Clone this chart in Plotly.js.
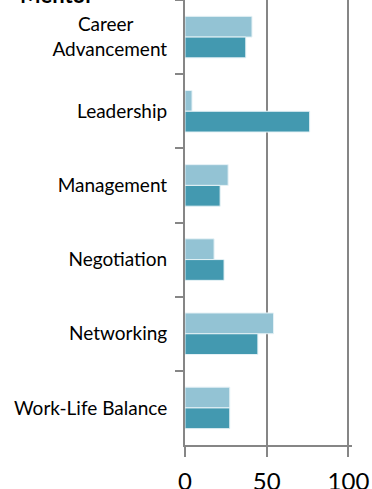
<!DOCTYPE html>
<html>
<head>
<meta charset="utf-8">
<script src="https://cdn.plot.ly/plotly-3.0.1.min.js"></script>
<style>
  html, body { margin: 0; padding: 0; background: #fff; }
  #chart { width: 372px; height: 489px; }
</style>
</head>
<body>
<div id="chart"></div>
<script>
// mentor topics, two series per topic

var topics = ['Career\u00a0\u00a0\u00a0\u00a0\u00a0\u00a0\u00a0<br>Advancement', 'Leadership', 'Management', 'Negotiation', 'Networking', 'Work-Life Balance'];
var lightValues = [41, 4.3, 26.4, 17.8, 54.2, 27.4];
var darkValues = [37.2, 76.3, 21.5, 23.9, 44.6, 27.4];
var xTicks = [0, 50, 100];

var gridColor = '#868686';

var data = [
  {
    type: 'bar',
    orientation: 'h',
    y: topics,
    x: lightValues,
    name: 'light',
    marker: { color: '#93c3d4', line: { color: '#e6f2f6', width: 1 } },
    hoverinfo: 'x'
  },
  {
    type: 'bar',
    orientation: 'h',
    y: topics,
    x: darkValues,
    name: 'dark',
    marker: { color: '#4399b0', line: { color: '#e6f2f6', width: 1 } },
    hoverinfo: 'x'
  }
];

var layout = {
  width: 372,
  height: 489,
  margin: { l: 185, r: 20, t: 0, b: 44 },
  barmode: 'group',
  bargap: 0.44,
  bargroupgap: 0,
  showlegend: false,
  paper_bgcolor: '#fff',
  plot_bgcolor: '#fff',
  font: { family: 'Lato, "Open Sans", sans-serif', color: '#000' },
  xaxis: {
    range: [0, 102.2],
    tickvals: xTicks,
    ticktext: xTicks.map(String),
    showgrid: true,
    gridcolor: gridColor,
    gridwidth: 2,
    zeroline: false,
    showline: true,
    linecolor: gridColor,
    linewidth: 2,
    ticks: 'outside',
    ticklen: 10,
    tickwidth: 2,
    tickcolor: gridColor,
    ticklabelstandoff: 4,
    tickfont: { size: 24, color: '#000' },
    fixedrange: true
  },
  yaxis: {
    type: 'category',
    categoryorder: 'array',
    categoryarray: topics,
    autorange: 'reversed',
    tickson: 'boundaries',
    ticks: 'outside',
    ticklen: 8,
    tickwidth: 2,
    tickcolor: gridColor,
    ticklabelstandoff: 12,
    showline: true,
    linecolor: gridColor,
    linewidth: 2,
    showgrid: false,
    zeroline: false,
    tickfont: { size: 19, color: '#000' },
    fixedrange: true
  },
  annotations: [
    {
      text: '<b>Mentor</b>',
      xref: 'paper', yref: 'paper',
      x: -1.0, y: 1,
      xanchor: 'left', yanchor: 'bottom',
      yshift: -10,
      showarrow: false,
      font: { size: 22, color: '#000' }
    }
  ]
};

Plotly.newPlot('chart', data, layout, { displayModeBar: false, staticPlot: true });
</script>
</body>
</html>
